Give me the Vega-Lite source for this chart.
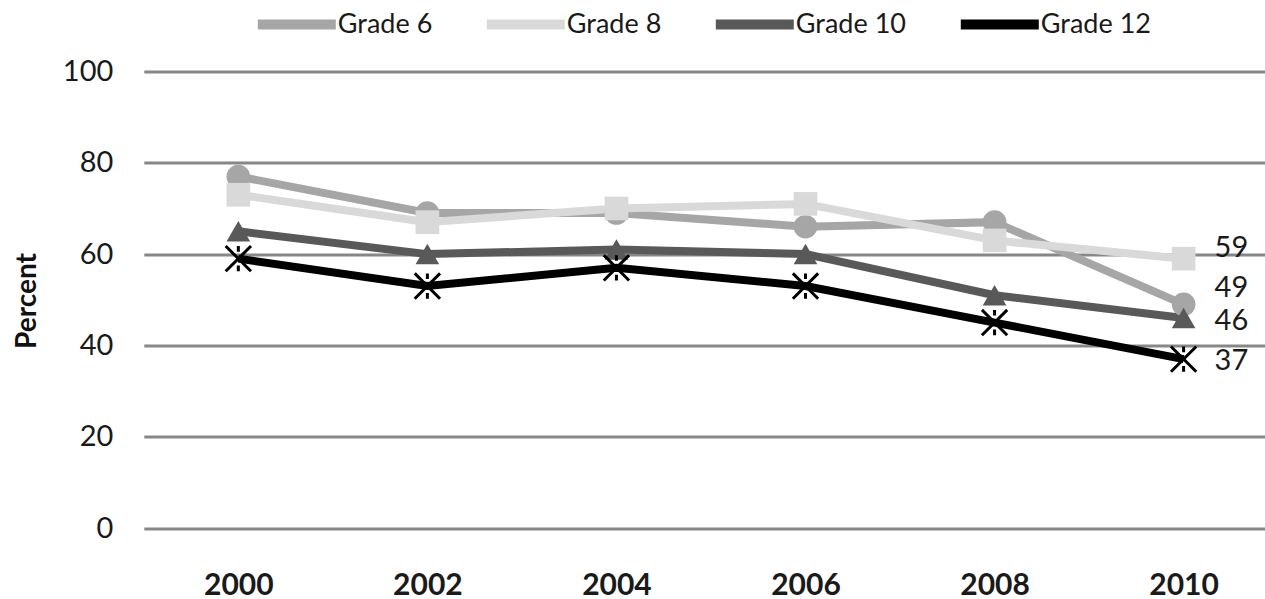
{
  "$schema": "https://vega.github.io/schema/vega-lite/v6.json",
  "width": 1121.2,
  "height": 456.5,
  "autosize": {"type": "none"},
  "padding": {"left": 143.8, "top": 71.5, "right": 0, "bottom": 71},
  "background": "white",
  "config": {
    "view": {"stroke": null},
    "font": "Lato",
    "axis": {
      "domain": false,
      "ticks": false,
      "tickSize": 0,
      "labelFont": "Lato",
      "labelColor": "#1a1a1a",
      "titleFont": "Lato",
      "titleColor": "#111111"
    },
    "legend": {
      "orient": "none",
      "legendX": 109,
      "legendY": -91,
      "direction": "horizontal",
      "title": null,
      "padding": 0,
      "symbolType": "stroke",
      "symbolSize": 6084,
      "symbolStrokeWidth": 10,
      "labelFont": "Lato",
      "labelFontSize": 27,
      "labelColor": "#1a1a1a",
      "labelOffset": -3,
      "columnPadding": 34,
      "labelLimit": 300
    }
  },
  "data": {
    "values": [
      {"year": 2000, "grade": "Grade 6", "value": 77},
      {"year": 2002, "grade": "Grade 6", "value": 69},
      {"year": 2004, "grade": "Grade 6", "value": 69},
      {"year": 2006, "grade": "Grade 6", "value": 66},
      {"year": 2008, "grade": "Grade 6", "value": 67},
      {"year": 2010, "grade": "Grade 6", "value": 49},
      {"year": 2000, "grade": "Grade 8", "value": 73},
      {"year": 2002, "grade": "Grade 8", "value": 67},
      {"year": 2004, "grade": "Grade 8", "value": 70},
      {"year": 2006, "grade": "Grade 8", "value": 71},
      {"year": 2008, "grade": "Grade 8", "value": 63},
      {"year": 2010, "grade": "Grade 8", "value": 59},
      {"year": 2000, "grade": "Grade 10", "value": 65},
      {"year": 2002, "grade": "Grade 10", "value": 60},
      {"year": 2004, "grade": "Grade 10", "value": 61},
      {"year": 2006, "grade": "Grade 10", "value": 60},
      {"year": 2008, "grade": "Grade 10", "value": 51},
      {"year": 2010, "grade": "Grade 10", "value": 46},
      {"year": 2000, "grade": "Grade 12", "value": 59},
      {"year": 2002, "grade": "Grade 12", "value": 53},
      {"year": 2004, "grade": "Grade 12", "value": 57},
      {"year": 2006, "grade": "Grade 12", "value": 53},
      {"year": 2008, "grade": "Grade 12", "value": 45},
      {"year": 2010, "grade": "Grade 12", "value": 37}
    ]
  },
  "encoding": {
    "x": {
      "field": "year",
      "type": "quantitative",
      "scale": {"domain": [1999, 2010.861], "nice": false, "zero": false},
      "axis": {
        "title": null,
        "values": [2000, 2002, 2004, 2006, 2008, 2010],
        "format": "d",
        "grid": false,
        "labelFontSize": 30,
        "labelFontWeight": "bold",
        "labelPadding": 42
      }
    },
    "y": {
      "field": "value",
      "type": "quantitative",
      "scale": {"domain": [0, 100], "nice": false},
      "axis": {
        "title": "Percent",
        "values": [0, 20, 40, 60, 80, 100],
        "grid": true,
        "gridColor": "#878787",
        "gridWidth": 3,
        "labelFontSize": 29,
        "labelPadding": 31,
        "titleFontSize": 28,
        "titleFontWeight": "bold",
        "titleAngle": -90,
        "titleAlign": "center",
        "titleBaseline": "middle",
        "titleX": -116,
        "titleY": 229
      }
    }
  },
  "layer": [
    {
      "mark": {"type": "line", "strokeWidth": 8},
      "encoding": {
        "color": {
          "field": "grade",
          "type": "nominal",
          "scale": {
            "domain": ["Grade 6", "Grade 8", "Grade 10", "Grade 12"],
            "range": ["#a6a6a6", "#d9d9d9", "#595959", "#000000"]
          }
        }
      }
    },
    {
      "transform": [{"filter": "datum.grade !== 'Grade 12'"}],
      "mark": {"type": "point", "filled": true, "opacity": 1, "strokeWidth": 0},
      "encoding": {
        "fill": {
          "field": "grade",
          "type": "nominal",
          "legend": null,
          "scale": {
            "domain": ["Grade 6", "Grade 8", "Grade 10"],
            "range": ["#a6a6a6", "#d9d9d9", "#595959"]
          }
        },
        "shape": {
          "field": "grade",
          "type": "nominal",
          "legend": null,
          "scale": {
            "domain": ["Grade 6", "Grade 8", "Grade 10"],
            "range": ["circle", "square", "triangle-up"]
          }
        },
        "size": {"value": 560}
      }
    },
    {
      "transform": [{"filter": "datum.grade === 'Grade 12'"}],
      "mark": {
        "type": "point",
        "filled": false,
        "opacity": 1,
        "shape": "M-1,-1L1,1M-1,1L1,-1M0,-1L0,-0.55M0,0.55L0,1",
        "stroke": "#000000",
        "strokeWidth": 3,
        "size": 640
      }
    },
    {
      "transform": [{"filter": "datum.year === 2010 && datum.grade === 'Grade 8'"}],
      "mark": {"type": "text", "align": "left", "baseline": "middle", "dx": 31, "dy": -11, "fontSize": 29, "font": "Lato", "color": "#1a1a1a"},
      "encoding": {"text": {"field": "value", "type": "quantitative"}}
    },
    {
      "transform": [{"filter": "datum.year === 2010 && datum.grade === 'Grade 6'"}],
      "mark": {"type": "text", "align": "left", "baseline": "middle", "dx": 31, "dy": -16, "fontSize": 29, "font": "Lato", "color": "#1a1a1a"},
      "encoding": {"text": {"field": "value", "type": "quantitative"}}
    },
    {
      "transform": [{"filter": "datum.year === 2010 && datum.grade === 'Grade 10'"}],
      "mark": {"type": "text", "align": "left", "baseline": "middle", "dx": 31, "dy": 3, "fontSize": 29, "font": "Lato", "color": "#1a1a1a"},
      "encoding": {"text": {"field": "value", "type": "quantitative"}}
    },
    {
      "transform": [{"filter": "datum.year === 2010 && datum.grade === 'Grade 12'"}],
      "mark": {"type": "text", "align": "left", "baseline": "middle", "dx": 31, "dy": 2, "fontSize": 29, "font": "Lato", "color": "#1a1a1a"},
      "encoding": {"text": {"field": "value", "type": "quantitative"}}
    }
  ]
}
